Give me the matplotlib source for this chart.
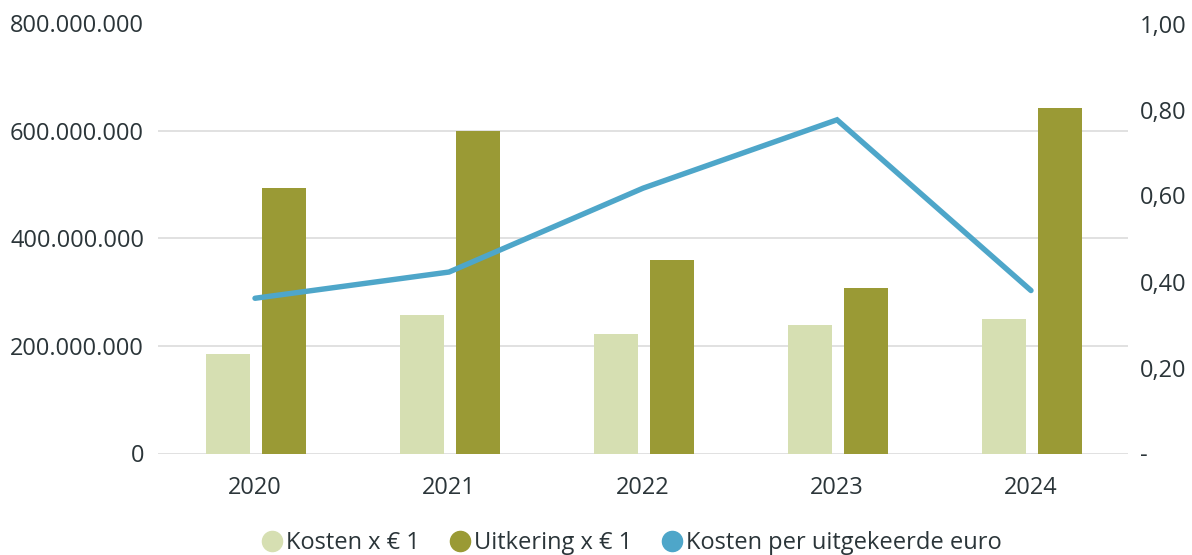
import numpy as np
import matplotlib.pyplot as plt
from matplotlib.lines import Line2D
from matplotlib.ticker import FuncFormatter

jaren = ['2020', '2021', '2022', '2023', '2024']
kosten = [185e6, 258e6, 222e6, 239e6, 250e6]
uitkering = [494e6, 600e6, 360e6, 308e6, 642e6]
kosten_per_euro = [0.361, 0.422, 0.617, 0.776, 0.379]

licht = '#d6dfb2'
olijf = '#9a9a35'
blauw = '#4ea6c9'
tekst = '#2b3539'

plt.rcParams['font.family'] = ['Open Sans', 'DejaVu Sans']
fs = 17

fig = plt.figure(figsize=(11.92, 5.55), dpi=100)
ax = fig.add_axes([158 / 1192, 1 - 453.5 / 555, 970 / 1192, 430 / 555])
ax2 = ax.twinx()

x = np.arange(len(jaren))
w = 0.227
ax.bar(x - 0.144 + 0.004, kosten, w, color=licht, zorder=2)
ax.bar(x + 0.144 + 0.004, uitkering, w, color=olijf, zorder=2)
ax2.plot(x, kosten_per_euro, color=blauw, lw=3.9, solid_capstyle='round',
         solid_joinstyle='miter', zorder=3)

ax.set_xlim(-0.5, 4.5)
ax.set_ylim(0, 800e6)
ax.set_yticks(np.arange(0, 800e6 + 1, 200e6))
ax.yaxis.set_major_formatter(FuncFormatter(
    lambda v, p: f'{int(v):,}'.replace(',', '.')))
ax.grid(axis='y', color='#d9d9d9', lw=1.1, zorder=0)
ax.set_axisbelow(True)
ax.set_xticks(x)
ax.set_xticklabels(jaren)

ax2.set_ylim(0, 1.0)
ax2.set_yticks(np.arange(0, 1.01, 0.2))
ax2.yaxis.set_major_formatter(FuncFormatter(
    lambda v, p: '-' if abs(v) < 1e-9 else f'{v:.2f}'.replace('.', ',')))

for a in (ax, ax2):
    for s in a.spines.values():
        s.set_visible(False)
    a.tick_params(length=0, colors=tekst, labelsize=fs)
ax.tick_params(axis='y', pad=10)
ax.tick_params(axis='x', pad=16)
ax2.tick_params(axis='y', pad=8.5)

handles = [
    Line2D([], [], ls='', marker='o', ms=14.5, color=licht, label='Kosten x € 1'),
    Line2D([], [], ls='', marker='o', ms=14.5, color=olijf, label='Uitkering x € 1'),
    Line2D([], [], ls='', marker='o', ms=14.5, color=blauw, label='Kosten per uitgekeerde euro'),
]
leg = fig.legend(handles=handles, loc='center', bbox_to_anchor=(631 / 1192, 1 - 543 / 555),
                 ncol=3, frameon=False, handletextpad=0.1, columnspacing=1.2,
                 fontsize=fs, labelcolor=tekst, handlelength=1.0)

fig.savefig('out.png', dpi=100)
